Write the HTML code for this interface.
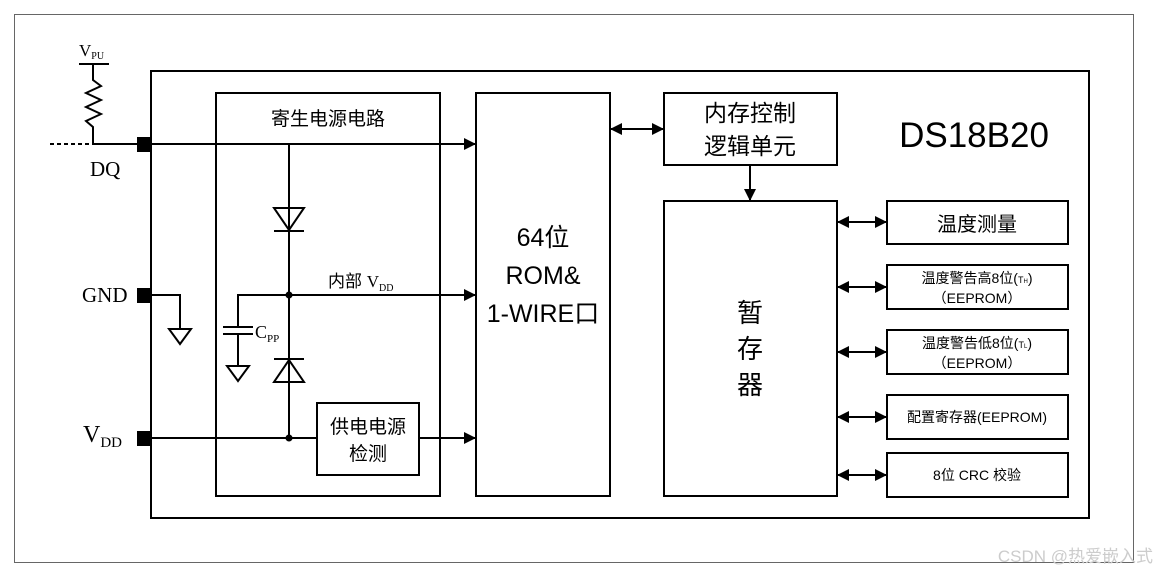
<!DOCTYPE html>
<html><head><meta charset="utf-8"><style>body{margin:0;background:#fff}svg{display:block}text{font-family:"Liberation Sans","Noto Sans CJK SC",sans-serif;fill:#000}.s{font-family:"Liberation Serif","Noto Serif CJK SC",serif}</style></head><body>
<svg width="1157" height="576" viewBox="0 0 1157 576" xmlns="http://www.w3.org/2000/svg">
<defs>
<marker id="a" markerWidth="12" markerHeight="12" refX="11" refY="6" orient="auto-start-reverse" markerUnits="userSpaceOnUse"><path d="M0,0 L12,6 L0,12 z" fill="#000"/></marker>
</defs>
<rect x="14.5" y="14.5" width="1119" height="548" fill="none" stroke="#666" stroke-width="1"/>
<g fill="none" stroke="#000" stroke-width="2">
<rect x="151" y="71" width="938" height="447"/>
<rect x="216" y="93" width="224" height="403"/>
<rect x="476" y="93" width="134" height="403"/>
<rect x="664" y="93" width="173" height="72"/>
<rect x="664" y="201" width="173" height="295"/>
<rect x="887" y="201" width="181" height="43"/>
<rect x="887" y="265" width="181" height="44"/>
<rect x="887" y="330" width="181" height="44"/>
<rect x="887" y="395" width="181" height="44"/>
<rect x="887" y="453" width="181" height="44"/>
<rect x="317" y="403" width="102" height="72"/>
<path d="M50,144 H92" stroke-dasharray="4,3"/>
<path d="M92,144 H475" marker-end="url(#a)"/>
<path d="M79,64 H109 M93,64 V80 L101,86 L86,93 L101,100 L86,107 L101,114 L86,121 L93,127 V144"/>
<path d="M289,144 V438"/>
<path d="M274,208 H304 L289,230 Z M274,231 H304"/>
<path d="M274,382 H304 L289,360 Z M274,359 H304"/>
<path d="M289,295 H475" marker-end="url(#a)"/>
<path d="M289,295 H238 V326 M223,327 H253 M223,334 H253 M238,334 V365 M227,366 H249 L238,381 Z"/>
<path d="M151,295 H180 V328 M169,329 H191 L180,344 Z"/>
<path d="M151,438 H317"/>
<path d="M419,438 H475" marker-end="url(#a)"/>
<path d="M611,129 H663" marker-start="url(#a)" marker-end="url(#a)"/>
<path d="M750,165 V200" marker-end="url(#a)"/>
<path d="M838,222 H886" marker-start="url(#a)" marker-end="url(#a)"/>
<path d="M838,287 H886" marker-start="url(#a)" marker-end="url(#a)"/>
<path d="M838,352 H886" marker-start="url(#a)" marker-end="url(#a)"/>
<path d="M838,417 H886" marker-start="url(#a)" marker-end="url(#a)"/>
<path d="M838,475 H886" marker-start="url(#a)" marker-end="url(#a)"/>
</g>
<g fill="#000">
<rect x="137" y="137" width="14" height="15"/><rect x="137" y="288" width="14" height="15"/><rect x="137" y="431" width="14" height="15"/>
<circle cx="289" cy="295" r="3.5"/><circle cx="289" cy="438" r="3.5"/>
</g>
<text class="s" x="79" y="56" font-size="17">V<tspan font-size="10" dy="3">PU</tspan></text>
<text class="s" x="90" y="176" font-size="21">DQ</text>
<text class="s" x="82" y="302" font-size="21">GND</text>
<text class="s" x="83" y="442" font-size="24">V<tspan font-size="15" dy="5">DD</tspan></text>
<text class="s" x="255" y="338" font-size="18">C<tspan font-size="11" dy="4">PP</tspan></text>
<text x="328" y="287" font-size="17">内部 <tspan class="s">V</tspan><tspan class="s" font-size="10" dy="4">DD</tspan></text>
<text x="328" y="125" font-size="19" text-anchor="middle">寄生电源电路</text>
<text x="368" y="433" font-size="19" text-anchor="middle">供电电源</text>
<text x="368" y="460" font-size="19" text-anchor="middle">检测</text>
<text x="543" y="246" font-size="25" text-anchor="middle">64位</text>
<text x="543" y="284" font-size="25" text-anchor="middle">ROM&amp;</text>
<text x="543" y="322" font-size="25" text-anchor="middle">1-WIRE口</text>
<text x="750" y="121" font-size="23" text-anchor="middle">内存控制</text>
<text x="750" y="154" font-size="23" text-anchor="middle">逻辑单元</text>
<text x="974" y="147" font-size="35" text-anchor="middle">DS18B20</text>
<text x="750" y="322" font-size="26" text-anchor="middle">暂</text>
<text x="750" y="358" font-size="26" text-anchor="middle">存</text>
<text x="750" y="394" font-size="26" text-anchor="middle">器</text>
<text x="977" y="231" font-size="20" text-anchor="middle">温度测量</text>
<text x="977" y="283" font-size="14" text-anchor="middle">温度警告高8位(<tspan font-size="9">T</tspan><tspan font-size="6">H</tspan>)</text>
<text x="977" y="303" font-size="14" text-anchor="middle">（EEPROM）</text>
<text x="977" y="348" font-size="14" text-anchor="middle">温度警告低8位(<tspan font-size="9">T</tspan><tspan font-size="6">L</tspan>)</text>
<text x="977" y="368" font-size="14" text-anchor="middle">（EEPROM）</text>
<text x="977" y="422" font-size="14" text-anchor="middle">配置寄存器(EEPROM)</text>
<text x="977" y="480" font-size="14" text-anchor="middle">8位 CRC 校验</text>
<text x="1153" y="562" font-size="17" text-anchor="end" style="fill:#ccc">CSDN @热爱嵌入式</text>
</svg>
</body></html>
